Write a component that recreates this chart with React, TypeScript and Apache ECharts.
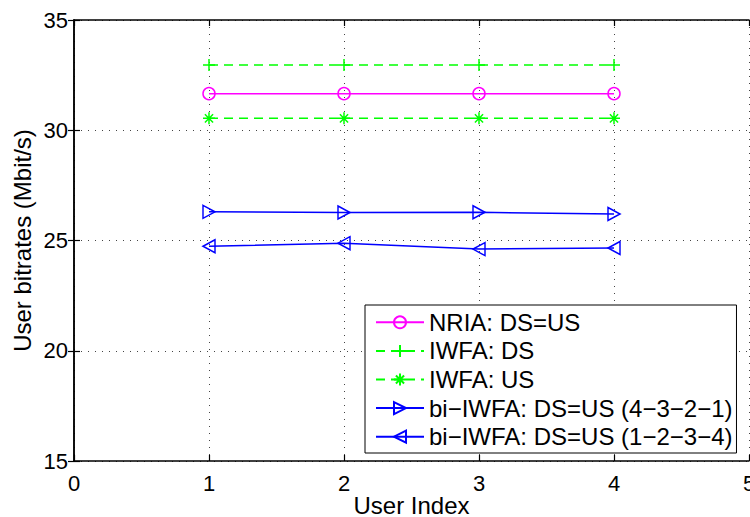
import React, { useEffect, useRef } from "react";
import * as echarts from "echarts";

// User indices on the x axis
const userIndex = [1, 2, 3, 4];

// User bitrates in Mbit/s for each allocation scheme
const nriaDsUs = [31.66, 31.66, 31.66, 31.66];
const iwfaDs = [32.96, 32.96, 32.96, 32.96];
const iwfaUs = [30.54, 30.54, 30.54, 30.54];
const biIwfa4321 = [26.3, 26.27, 26.28, 26.2];
const biIwfa1234 = [24.74, 24.88, 24.61, 24.66];

const seriesNames = [
  "NRIA: DS=US",
  "IWFA: DS",
  "IWFA: US",
  "bi\u2212IWFA: DS=US (4\u22123\u22122\u22121)",
  "bi\u2212IWFA: DS=US (1\u22122\u22123\u22124)",
];

const FONT = "'Liberation Sans', Arial, Helvetica, sans-serif";

const PLUS = "path://M5,0L5,10M0,5L10,5";
const STAR = "path://M5,0L5,10M0,5L10,5M1.6,1.6L8.4,8.4M8.4,1.6L1.6,8.4";
const TRI_RIGHT = "path://M0,0L10,6L0,12Z";
const TRI_LEFT = "path://M10,0L0,6L10,12Z";

const pairs = (vals: number[]) => userIndex.map((x, i) => [x, vals[i]]);

const lineSeries = (
  name: string,
  vals: number[],
  color: string,
  symbol: string,
  symbolSize: number | number[],
  dashed: boolean
) => ({
  name,
  type: "line",
  data: pairs(vals),
  symbol,
  symbolSize,
  showSymbol: true,
  lineStyle: { color, width: 1.5, type: dashed ? [9, 6] : "solid" },
  itemStyle: { color: "transparent", borderColor: color, borderWidth: 1.5 },
  emphasis: { disabled: true },
  z: 3,
});

export default function App() {
  const ref = useRef<HTMLDivElement>(null);

  useEffect(() => {
    document.body.style.margin = "0";
    if (!ref.current) return;
    const chart = echarts.init(ref.current, null, { renderer: "svg" });

    const boxAxisCommon = {
      axisLine: { show: true, lineStyle: { color: "#000", width: 1.5 } },
      axisTick: { show: true, inside: true, length: 6, lineStyle: { color: "#000", width: 1.2 } },
    };

    chart.setOption({
      animation: false,
      backgroundColor: "#fff",
      textStyle: { fontFamily: FONT },
      grid: {
        left: 74,
        top: 20,
        right: 1,
        bottom: 56,
        containLabel: false,
        outerBoundsMode: "none",
      },
      xAxis: [
        {
          type: "value",
          min: 0,
          max: 5,
          interval: 1,
          position: "bottom",
          name: "User Index",
          nameLocation: "middle",
          nameGap: 32,
          nameMoveOverlap: false,
          nameTextStyle: { fontSize: 24, color: "#000", fontFamily: FONT },
          ...boxAxisCommon,
          axisLabel: { fontSize: 22, color: "#000", margin: 11, fontFamily: FONT },
          splitLine: { show: true, lineStyle: { color: "#444", width: 1, type: [1, 6] } },
        },
        {
          type: "value",
          min: 0,
          max: 5,
          interval: 1,
          position: "top",
          ...boxAxisCommon,
          axisLabel: { show: false },
          splitLine: { show: false },
        },
      ],
      yAxis: [
        {
          type: "value",
          min: 15,
          max: 35,
          interval: 5,
          position: "left",
          name: "User bitrates (Mbit/s)",
          nameLocation: "middle",
          nameGap: 40,
          nameMoveOverlap: false,
          nameTextStyle: { fontSize: 24, color: "#000", fontFamily: FONT },
          ...boxAxisCommon,
          axisLabel: { fontSize: 22, color: "#000", margin: 6, fontFamily: FONT },
          splitLine: { show: true, lineStyle: { color: "#444", width: 1, type: [1, 6] } },
        },
        {
          type: "value",
          min: 15,
          max: 35,
          interval: 5,
          position: "right",
          ...boxAxisCommon,
          axisLabel: { show: false },
          splitLine: { show: false },
        },
      ],
      legend: {
        orient: "vertical",
        left: 365,
        top: 305,
        padding: [3, 4, 2, 10],
        itemGap: 0,
        itemWidth: 48,
        itemHeight: 15,
        backgroundColor: "#fff",
        borderColor: "#000",
        borderWidth: 1,
        borderRadius: 0,
        selectedMode: false,
        textStyle: { fontSize: 24, color: "#000", lineHeight: 28.6, fontFamily: FONT },
        data: seriesNames,
      },
      series: [
        lineSeries(seriesNames[0], nriaDsUs, "#ff00ff", "circle", 12, false),
        lineSeries(seriesNames[1], iwfaDs, "#00ff00", PLUS, 12, true),
        lineSeries(seriesNames[2], iwfaUs, "#00ff00", STAR, 12, true),
        lineSeries(seriesNames[3], biIwfa4321, "#0000ff", TRI_RIGHT, [12, 13], false),
        lineSeries(seriesNames[4], biIwfa1234, "#0000ff", TRI_LEFT, [12, 13], false),
      ],
    });

    return () => chart.dispose();
  }, []);

  return <div ref={ref} style={{ width: 750, height: 517 }} />;
}
